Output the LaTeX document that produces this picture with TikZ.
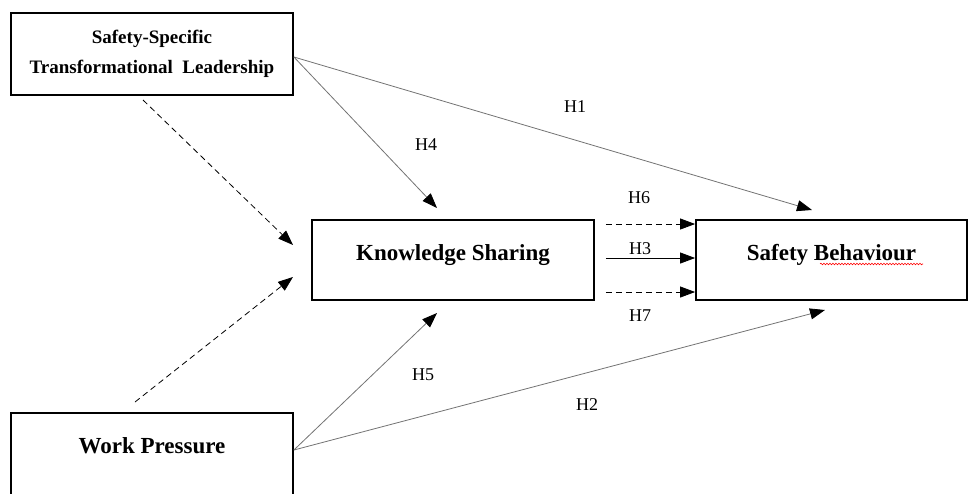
\documentclass[tikz,border=0pt]{standalone}
\usepackage{fontspec}
\setmainfont{Liberation Serif}
\usetikzlibrary{arrows.meta,decorations.pathmorphing}

\begin{document}
\begin{tikzpicture}[x=1pt,y=-1pt,
    box/.style={draw,line width=1.8pt,minimum width=282pt,minimum height=80pt,inner sep=0pt,align=center,font=\fontsize{23}{27}\selectfont\bfseries},
    hlabel/.style={font=\fontsize{18}{20}\selectfont,inner sep=0pt},
    arr/.style={-{Triangle[length=15pt,width=11pt,color=black]},line width=0.8pt},
    diag/.style={arr,draw=black!55},
    dasharr/.style={arr,dashed,dash pattern=on 6pt off 4pt}]
    \useasboundingbox (0,0) rectangle (968,493);

    \node (sstl) [box,minimum height=82pt,font=\fontsize{19}{30}\selectfont\bfseries] at (152,54)
      {Safety-Specific\\Transformational\hspace{0.5em}Leadership};
    \node (ks) [box,text height=16pt,text depth=16pt] at (453,260) {Knowledge Sharing};
    \node (sb) [box,minimum width=271pt,text height=16pt,text depth=16pt] at (831.5,260) {Safety Behaviour};
    \node (wp) [box,minimum height=90pt,text height=16pt,text depth=26pt] at (152,458) {Work Pressure};

    % free ends of the connectors
    \coordinate (h1end) at (812,210);
    \coordinate (h4end) at (437,208);
    \coordinate (h5end) at (437,313);
    \coordinate (h2end) at (825,310);
    \coordinate (m1start) at (143,100);
    \coordinate (m1end) at (293,245);
    \coordinate (m2start) at (135,402);
    \coordinate (m2end) at (293,277);

    \draw[diag] ([yshift=-3pt]sstl.east) -- (h1end);
    \draw[diag] ([yshift=-3pt]sstl.east) -- (h4end);
    \draw[diag] ([yshift=8pt]wp.east) -- (h5end);
    \draw[diag] ([yshift=8pt]wp.east) -- (h2end);
    \draw[dasharr] (m1start) -- (m1end);
    \draw[dasharr] (m2start) -- (m2end);

    \draw[dasharr] ([xshift=11pt,yshift=36pt]ks.east) -- ([yshift=36pt]sb.west);
    \draw[arr] ([xshift=11pt,yshift=2pt]ks.east) -- ([yshift=2pt]sb.west);
    \draw[dasharr] ([xshift=11pt,yshift=-32pt]ks.east) -- ([yshift=-32pt]sb.west);

    \node (h1) [hlabel] at (575,107) {H1};
    \node (h4) [hlabel] at (426,145) {H4};
    \node (h6) [hlabel] at (639,198) {H6};
    \node (h3) [hlabel] at (640,249) {H3};
    \node (h7) [hlabel] at (640,316) {H7};
    \node (h5) [hlabel] at (423,375) {H5};
    \node (h2) [hlabel] at (587,405) {H2};

    % spell-check squiggle
    \draw[red,line width=0.6pt,decorate,decoration={snake,amplitude=0.8pt,segment length=3pt}] (820,264) -- (923,264);
\end{tikzpicture}
\end{document}
